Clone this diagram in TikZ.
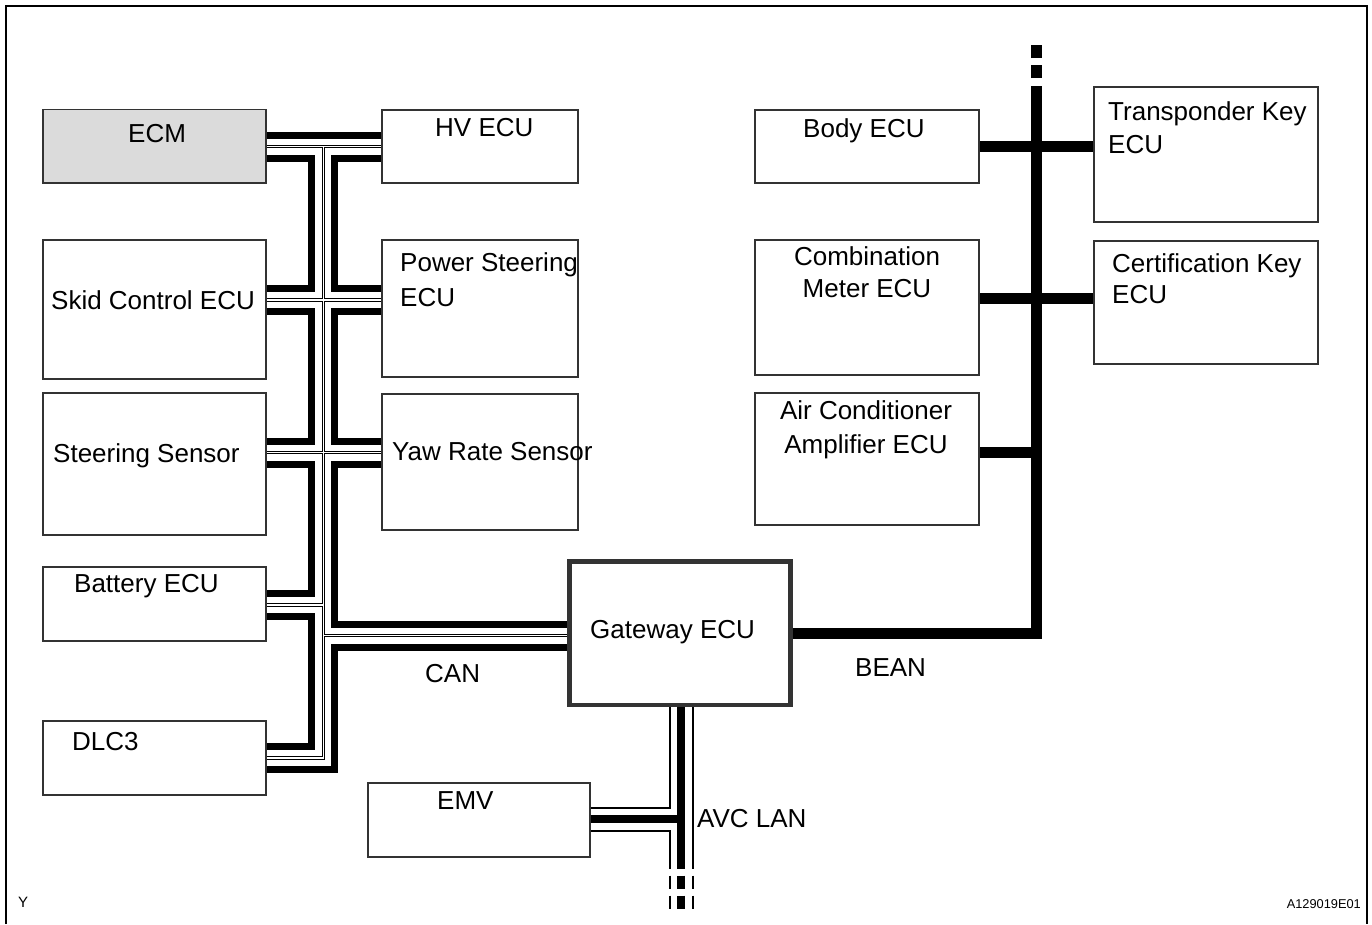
\documentclass[tikz,border=0pt]{standalone}
\usepackage{fontspec}
\setmainfont{Liberation Sans}
\usetikzlibrary{backgrounds}

\begin{document}
\begin{tikzpicture}[x=1pt, y=-1pt, every node/.style={font=\fontsize{26}{33}\selectfont}, box/.style={rectangle, draw=black!80, line width=1.3pt, fill=white, anchor=north west, inner sep=0pt, outer sep=0pt}, txt/.style={inner sep=0pt, anchor=base west}, can/.style={line width=30pt, line join=miter, postaction={draw=white, line width=16pt}, postaction={draw=black, line width=1pt, double=white, double distance=1.2pt}}, bean/.style={line width=11pt, line join=miter}, avc/.style={line width=8.4pt}, avcthin/.style={line width=1.8pt, line join=miter}]
\useasboundingbox (0,0) rectangle (1372,924);
\node[box, fill=black!14, minimum width=223pt, minimum height=73.5pt] (ecm) at (43,109.5) {};
\node[box, minimum width=196pt, minimum height=73pt] (hv) at (382,110) {};
\node[box, minimum width=223pt, minimum height=139pt] (skid) at (43,240) {};
\node[box, minimum width=196pt, minimum height=137pt] (ps) at (382,240) {};
\node[box, minimum width=223pt, minimum height=142pt] (steer) at (43,393) {};
\node[box, minimum width=196pt, minimum height=136pt] (yaw) at (382,394) {};
\node[box, minimum width=223pt, minimum height=74pt] (batt) at (43,567) {};
\node[box, minimum width=223pt, minimum height=74pt] (dlc) at (43,721) {};
\node[box, minimum width=222pt, minimum height=74pt] (emv) at (368,783) {};
\node[box, line width=4.5pt, minimum width=220.8pt, minimum height=143.5pt] (gw) at (569.7,561.5) {};
\node[box, minimum width=224pt, minimum height=73pt] (body) at (755,110) {};
\node[box, minimum width=224pt, minimum height=135pt] (comb) at (755,240) {};
\node[box, minimum width=224pt, minimum height=132pt] (ac) at (755,393) {};
\node[box, minimum width=224pt, minimum height=135pt] (trans) at (1094,87) {};
\node[box, minimum width=224pt, minimum height=123pt] (cert) at (1094,241) {};
\coordinate (j1) at (323.3,146.5);
\coordinate (j2) at (323.3,300);
\coordinate (j3) at (323.3,452.5);
\coordinate (j4) at (323.3,605);
\coordinate (j5) at (323.3,635.7);
\coordinate (j6) at (323.3,758);
\coordinate (k0) at (1036.5,86);
\coordinate (k1) at (1036.5,146.5);
\coordinate (k2) at (1036.5,298);
\coordinate (k3) at (1036.5,452);
\coordinate (k4) at (1036.5,633);
\coordinate (kend) at (1036.5,45);
\coordinate (a0) at (681,819);
\coordinate (a1) at (681,869);
\coordinate (a2) at (681,909.5);
\coordinate (b0) at (670,807.7);
\coordinate (b1) at (670,830.7);
\coordinate (b2) at (670,869);
\coordinate (c1) at (692.7,869);
\begin{pgfonlayer}{background}
\draw[can] (ecm.east |- j1) -- (hv.west |- j1) (j1) -- (j6) -- (dlc.east |- j6) (skid.east |- j2) -- (ps.west |- j2) (steer.east |- j3) -- (yaw.west |- j3) (batt.east |- j4) -- (j4) (j5) -- (gw.west |- j5);
\draw[bean] (body.east |- k1) -- (trans.west |- k1) (comb.east |- k2) -- (cert.west |- k2) (ac.east |- k3) -- (k3) (gw.east |- k4) -- (k4) -- (k0);
\draw[bean, dash pattern=on 13pt off 7pt] ([yshift=8pt]k0) -- (kend);
\draw[avc] (gw.south -| a0) -- (a1) (emv.east |- a0) -- (a0);
\draw[avcthin] (gw.south -| b0) -- (b0) -- (emv.east |- b0) (emv.east |- b1) -- (b1) -- (b2) (gw.south -| c1) -- (c1);
\draw[avc, dash pattern=on 13.5pt off 6.5pt] ([yshift=-6.5pt]a1) -- (a2);
\draw[avcthin, dash pattern=on 13.5pt off 6.5pt] ([yshift=-6.5pt]b2) -- (b2 |- a2) ([yshift=-6.5pt]c1) -- (c1 |- a2);
\end{pgfonlayer}
\node[txt] (ecm-t) at (128,142) {ECM};
\node[txt] (hv-t) at (435,136) {HV ECU};
\node[txt] (skid-t) at (51,309) {Skid Control ECU};
\node[txt] (ps-t) at (400,271) {Power Steering};
\node[txt] (ps-u) at (400,306) {ECU};
\node[txt] (steer-t) at (53,462) {Steering Sensor};
\node[txt] (yaw-t) at (392,460) {Yaw Rate Sensor};
\node[txt] (batt-t) at (74,592) {Battery ECU};
\node[txt] (dlc-t) at (72,750) {DLC3};
\node[txt] (emv-t) at (437,809) {EMV};
\node[txt] (gw-t) at (590,638) {Gateway ECU};
\node[txt] (body-t) at (803,137) {Body ECU};
\node[txt, anchor=base] (comb-t) at (867,265) {Combination};
\node[txt, anchor=base] (comb-u) at (867,297) {Meter ECU};
\node[txt, anchor=base] (ac-t) at (866,419) {Air Conditioner};
\node[txt, anchor=base] (ac-u) at (866,453) {Amplifier ECU};
\node[txt] (trans-t) at (1108,120) {Transponder Key};
\node[txt] (trans-u) at (1108,153) {ECU};
\node[txt] (cert-t) at (1112,272) {Certification Key};
\node[txt] (cert-u) at (1112,303) {ECU};
\node[txt] (can-t) at (425,682) {CAN};
\node[txt] (bean-t) at (855,676) {BEAN};
\node[txt] (avc-t) at (697,827) {AVC LAN};
\node[txt, font=\fontsize{15}{18}\selectfont] (y-t) at (18,907) {Y};
\node[txt, anchor=base east, font=\fontsize{12.8}{15}\selectfont] (id-t) at (1361,908) {A129019E01};
\draw[line width=2.3pt] (6,924) -- (6,6) -- (1367,6) -- (1367,924);
\end{tikzpicture}
\end{document}
